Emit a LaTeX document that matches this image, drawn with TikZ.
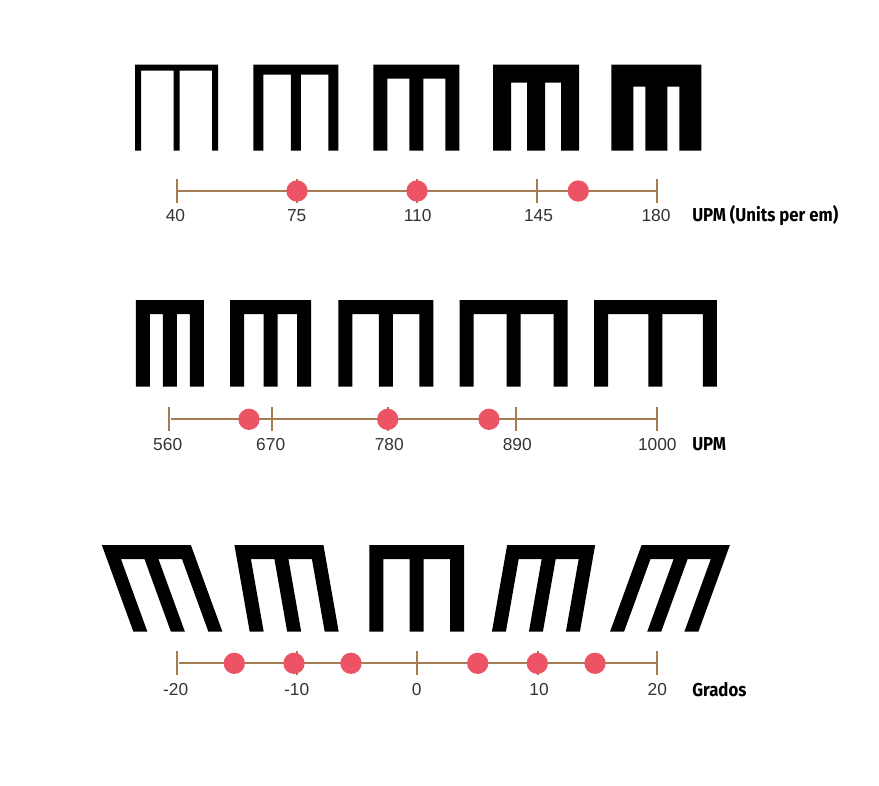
\documentclass[tikz,border=0pt]{standalone}
\usepackage{fontspec}
\setmainfont{Liberation Sans}
\newfontfamily\unitfont[FakeStretch=0.9]{Fira Sans}
\usetikzlibrary{positioning}
\definecolor{axisbrown}{HTML}{A67C52}
\definecolor{dotred}{HTML}{EC5465}
\definecolor{numgrey}{HTML}{333333}

\begin{document}
\begin{tikzpicture}[
      x=0.75pt, y=-0.75pt,
      every node/.style={inner sep=0pt},
      axis/.style={draw=axisbrown, line width=1.5pt},
      tickmark/.style={rectangle, fill=axisbrown, minimum width=1.5pt, minimum height=18pt},
      dot/.style={circle, fill=dotred, minimum size=16pt},
      ticklabel/.style={anchor=base, text=numgrey, font=\fontsize{13}{15}\selectfont},
      unitlabel/.style={anchor=base west, font=\unitfont\bfseries\fontsize{14}{16}\selectfont},
      pics/emglyph/.style n args={3}{code={
        \fill ({-#1/2},0) -- ({-#1/2},{-#3}) -- ({#1/2},{-#3}) -- ({#1/2},0)
          -- ({#1/2-#2},0) -- ({#1/2-#2},{#2-#3}) -- ({#2/2},{#2-#3}) -- ({#2/2},0)
          -- ({-#2/2},0) -- ({-#2/2},{#2-#3}) -- ({-#1/2+#2},{#2-#3}) -- ({-#1/2+#2},0) -- cycle;
      }},
    ]
    \useasboundingbox (0,0) rectangle (879,786);

    % weight
    \pic (g40)  at (176.5,150.5) {emglyph={83}{6}{86}};
    \pic (g75)  at (295.8,150.5) {emglyph={85}{10}{86}};
    \pic (g110) at (416.3,150.5) {emglyph={86}{14}{86}};
    \pic (g145) at (536.2,150.5) {emglyph={86}{18}{86}};
    \pic (g180) at (656.4,150.5) {emglyph={90}{22}{86}};

    \node[tickmark] (t40)  at (177,191) {};
    \node[tickmark] (t75)  at (297,191) {};
    \node[tickmark] (t110) at (417,191) {};
    \node[tickmark] (t145) at (537,191) {};
    \node[tickmark] (t180) at (657,191) {};
    \draw[axis] (t40) -- (t180);
    \node[dot] (d1) at (297,191) {};
    \node[dot] (d2) at (417,191) {};
    \node[dot] (d3) at (578.3,191) {};

    \node[ticklabel] (l40)  at (175.5,221.5) {40};
    \node[ticklabel] (l75)  at (296.7,221.5) {75};
    \node[ticklabel] (l110) at (417.7,221.5) {110};
    \node[ticklabel] (l145) at (538.5,221.5) {145};
    \node[ticklabel] (l180) at (656,221.5) {180};
    \node[unitlabel] (u1) at (692,221) {UPM (Units per em)};

    % width
    \pic (g560)  at (169.9,386.7) {emglyph={68}{14}{86.7}};
    \pic (g670)  at (270.5,386.7) {emglyph={81}{14}{86.7}};
    \pic (g780)  at (385.8,386.7) {emglyph={95}{14}{86.7}};
    \pic (g890)  at (513.5,386.7) {emglyph={108}{14}{86.7}};
    \pic (g1000) at (655.4,386.7) {emglyph={122.7}{14}{86.7}};

    \node[tickmark] (t560)  at (169.3,419.3) {};
    \node[tickmark] (t670)  at (271.7,419.3) {};
    \node[tickmark] (t780)  at (388,419.3) {};
    \node[tickmark] (t890)  at (516,419.3) {};
    \node[tickmark] (t1000) at (657,419.3) {};
    \draw[axis] (t560) -- (t1000);
    \node[dot] (d4) at (249,419.3) {};
    \node[dot] (d5) at (387.7,419.3) {};
    \node[dot] (d6) at (489,419.3) {};

    \node[ticklabel] (l560)  at (167.7,450.5) {560};
    \node[ticklabel] (l670)  at (270.7,450.5) {670};
    \node[ticklabel] (l780)  at (389.3,450.5) {780};
    \node[ticklabel] (l890)  at (517.3,450.5) {890};
    \node[ticklabel] (l1000) at (657.3,450.5) {1000};
    \node[unitlabel] (u2) at (692,450) {UPM};

    % slant
    \pic[xslant=-0.364] (gm20) at (177.9,631.7) {emglyph={89}{14}{86.7}};
    \pic[xslant=-0.176] (gm10) at (294.2,631.7) {emglyph={89}{14}{86.7}};
    \pic (g0)                  at (416.7,631.7) {emglyph={94.7}{14}{86.7}};
    \pic[xslant=0.176]  (gp10) at (535.9,631.7) {emglyph={88}{14}{86.7}};
    \pic[xslant=0.364]  (gp20) at (654.2,631.7) {emglyph={88.3}{14}{86.7}};

    \node[tickmark] (tm20) at (177.3,663.3) {};
    \node[tickmark] (tm10) at (297,663.3) {};
    \node[tickmark] (t0)   at (416.5,663.3) {};
    \node[tickmark] (tp10) at (538,663.3) {};
    \node[tickmark] (tp20) at (657,663.3) {};
    \draw[axis] (tm20) -- (tp20);
    \node[dot] (d7)  at (234.3,663.3) {};
    \node[dot] (d8)  at (294,663.3) {};
    \node[dot] (d9)  at (351,663.3) {};
    \node[dot] (d10) at (477.7,663.3) {};
    \node[dot] (d11) at (537.3,663.3) {};
    \node[dot] (d12) at (595,663.3) {};

    \node[ticklabel] (lm20) at (175.7,695.3) {-20};
    \node[ticklabel] (lm10) at (296.7,695.3) {-10};
    \node[ticklabel] (l0)   at (416.7,695.3) {0};
    \node[ticklabel] (lp10) at (539,695.3) {10};
    \node[ticklabel] (lp20) at (657.3,695.3) {20};
    \node[unitlabel] (u3) at (692,696) {Grados};
  \end{tikzpicture}
\end{document}
